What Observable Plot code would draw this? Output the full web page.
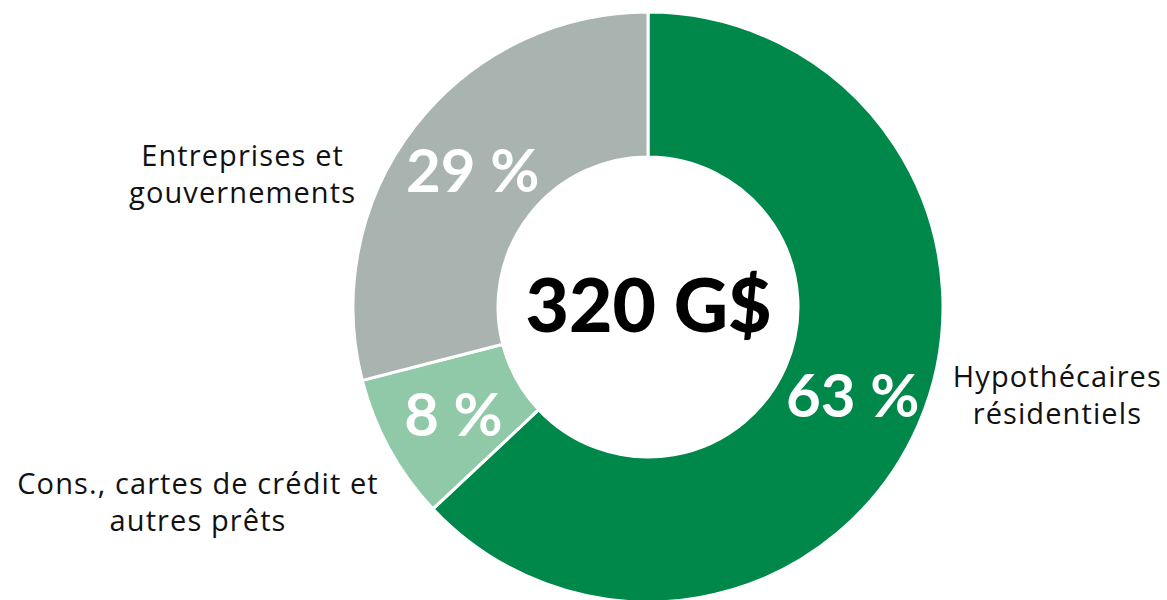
<!DOCTYPE html>
<html>
<head>
<meta charset="utf-8">
<script src="https://cdn.jsdelivr.net/npm/d3@7"></script>
<script src="https://cdn.jsdelivr.net/npm/@observablehq/plot@0.6"></script>
<style>
  html, body { margin: 0; padding: 0; background: #ffffff; }
  #chart svg { display: block; font-family: Lato, "Noto Sans", sans-serif; }
  #chart svg g[font-size="29"] text { letter-spacing: 1.1px; }
</style>
</head>
<body>
<div id="chart"></div>
<script>
// ---- Data ----
const categories = ["Hypothécaires\nrésidentiels", "Cons., cartes de crédit et\nautres prêts", "Entreprises et\ngouvernements"];
const shares = [63, 8, 29];
const percentLabels = ["63 %", "8 %", "29 %"];
const totalLabel = "320 G$";

// ---- Style / layout (kept apart from the data) ----
const colors = ["#00884b", "#8fc9a8", "#a9b3b0"];
const innerRatio = 150 / 295;
const W = 1167, H = 600, CX = 648, CY = 307, R = 295;
// category label anchors, in units of the outer radius (relative to the donut centre, y up)
const catPos = [[1.386, -0.293], [-1.527, -0.656], [-1.376, 0.456]];

const pie = d3.pie().sort(null).startAngle(0).endAngle(2 * Math.PI).value(d => d);
const arcs = pie(shares);
const unitArc = d3.arc().innerRadius(innerRatio).outerRadius(1);

const pctData = arcs.map((a, i) => {
  const [cx, cy] = unitArc.centroid(a);
  return {x: cx, y: -cy, label: percentLabels[i]};
});
const catData = categories.map((c, i) => ({x: catPos[i][0], y: catPos[i][1], label: c}));

function donut(index, scales) {
  const {x, y} = scales;
  const cx = x(0), cy = y(0), r = x(1) - x(0);
  const arc = d3.arc().innerRadius(r * innerRatio).outerRadius(r);
  const g = d3.create("svg:g").attr("transform", `translate(${cx},${cy})`);
  g.selectAll("path").data(arcs).join("path")
    .attr("d", arc)
    .attr("fill", d => colors[d.index])
    .attr("stroke", "#ffffff")
    .attr("stroke-width", 3)
    .attr("stroke-linejoin", "miter");
  return g.node();
}

const chart = Plot.plot({
  width: W,
  height: H,
  margin: 0,
  x: {type: "linear", domain: [-CX / R, (W - CX) / R], range: [0, W], axis: null},
  y: {type: "linear", domain: [-(H - CY) / R, CY / R], range: [H, 0], axis: null},
  style: {fontFamily: "Lato, 'Noto Sans', sans-serif", background: "#ffffff"},
  marks: [
    donut,
    Plot.text(pctData, {x: "x", y: "y", text: "label", fill: "#ffffff", fontSize: 60, fontWeight: 700, textAnchor: "middle", dy: 2}),
    Plot.text([{x: 0, y: 0, label: totalLabel}], {x: "x", y: "y", text: "label", fill: "#000000", fontSize: 75, fontWeight: 900, textAnchor: "middle"}),
    Plot.text(catData, {x: "x", y: "y", text: "label", fill: "#111111", fontSize: 29, fontFamily: "'Open Sans', Lato, sans-serif", lineHeight: 1.28, textAnchor: "middle"})
  ]
});
document.getElementById("chart").appendChild(chart);
</script>
</body>
</html>
